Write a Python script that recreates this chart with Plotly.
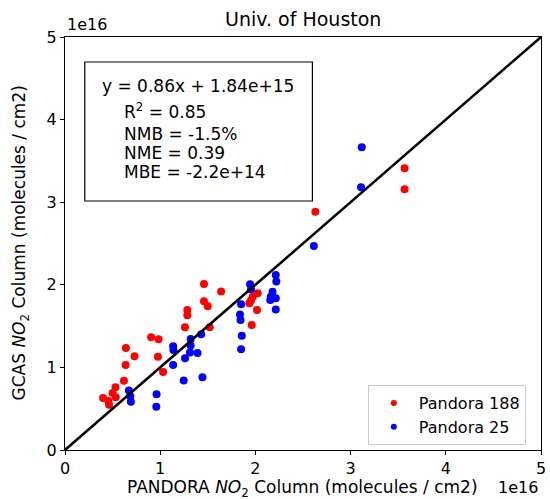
import plotly.graph_objects as go

# NO2 column densities in units of 1e16 molecules / cm2
pandora188_x = [1.46, 1.64, 1.46, 1.50, 1.285, 1.285, 1.26, 1.52, 0.905, 0.983,
                0.64, 0.73, 0.976, 0.637, 1.03, 0.619, 0.53, 0.50, 0.40, 0.456,
                0.533, 0.463, 2.024, 1.972, 1.954, 1.937, 2.017, 1.962, 2.63,
                3.567, 3.567]
pandora188_y = [2.01, 1.92, 1.80, 1.74, 1.695, 1.63, 1.485, 1.485, 1.364, 1.34,
                1.235, 1.135, 1.13, 1.03, 0.945, 0.839, 0.759, 0.69, 0.63, 0.593,
                0.638, 0.548, 1.897, 1.856, 1.81, 1.776, 1.695, 1.513, 2.885,
                3.41, 3.156]

pandora25_x = [0.671, 0.686, 0.692, 0.962, 0.959, 1.136, 1.139, 1.136, 1.247, 1.261,
               1.313, 1.32, 1.32, 1.392, 1.43, 1.444, 1.85, 1.838, 1.844, 1.857,
               1.85, 1.944, 1.954, 2.214, 2.22, 2.18, 2.162, 2.214, 2.156, 2.214,
               2.614, 3.117, 3.11]
pandora25_y = [0.72, 0.65, 0.585, 0.674, 0.524, 1.255, 1.21, 1.03, 0.84, 1.11,
               1.18, 1.345, 1.265, 1.175, 1.40, 0.88, 1.765, 1.64, 1.575, 1.384,
               1.22, 2.008, 1.945, 2.12, 2.04, 1.917, 1.856, 1.836, 1.816, 1.70,
               2.47, 3.665, 3.18]

axis_ticks = [0, 1, 2, 3, 4, 5]
one_to_one = [0, 5]

stats_lines = ["R<sup>2</sup> = 0.85", "NMB = -1.5%", "NME = 0.39", "MBE = -2.2e+14"]
fit_line_text = "y = 0.86x + 1.84e+15"

FONT = "DejaVu Sans"
W, H = 550, 499
L, R, T, B = 65, 4, 37, 49
PW, PH = W - L - R, H - T - B


def px(x):
    return (x - L) / PW


def py(y):
    return (H - B - y) / PH


fig = go.Figure()

fig.add_trace(go.Scatter(x=pandora188_x, y=pandora188_y, mode="markers",
                         marker=dict(color="#ff0000", size=8), showlegend=False))
fig.add_trace(go.Scatter(x=pandora25_x, y=pandora25_y, mode="markers",
                         marker=dict(color="#0000ff", size=8), showlegend=False))
fig.add_trace(go.Scatter(x=one_to_one, y=one_to_one, mode="lines",
                         line=dict(color="black", width=2.5), showlegend=False))

# legend entries with smaller dots
fig.add_trace(go.Scatter(x=[None], y=[None], mode="markers", name="Pandora 188",
                         marker=dict(color="#ff0000", size=6)))
fig.add_trace(go.Scatter(x=[None], y=[None], mode="markers", name="Pandora 25",
                         marker=dict(color="#0000ff", size=6)))

axis_common = dict(range=[0, 5], tickvals=axis_ticks, ticktext=[str(t) for t in axis_ticks],
                   ticks="outside", ticklen=4, tickwidth=1, tickcolor="black",
                   showline=True, linecolor="black", linewidth=1, mirror=True,
                   showgrid=False, zeroline=False, ticklabeloverflow="allow",
                   tickfont=dict(family=FONT, size=16, color="black"))

fig.update_layout(
    width=W, height=H,
    margin=dict(l=L, r=R, t=T, b=B),
    paper_bgcolor="white", plot_bgcolor="white",
    font=dict(family=FONT, color="black"),
    xaxis=axis_common,
    yaxis=axis_common,
    showlegend=True,
    legend=dict(x=px(371), y=py(385), xanchor="left", yanchor="top",
                bgcolor="white", bordercolor="#cccccc", borderwidth=1,
                tracegroupgap=0, itemwidth=40,
                font=dict(family=FONT, size=16, color="black")),
)

annotations = [
    dict(text="Univ. of Houston", x=px(305), y=py(19), font=dict(size=19)),
    dict(text="PANDORA <i>NO</i><sub>2</sub> Column (molecules / cm2)",
         x=px(305), y=py(488), font=dict(size=17)),
    dict(text="GCAS <i>NO</i><sub>2</sub> Column (molecules / cm2)",
         x=px(20), y=py(243), textangle=-90, font=dict(size=17)),
    dict(text="1e16", x=px(65), y=py(25), xanchor="left", font=dict(size=16)),
    dict(text="1e16", x=px(545), y=py(487), xanchor="right", font=dict(size=16)),
    dict(text=fit_line_text, x=px(100), y=py(86), xanchor="left", font=dict(size=17)),
]
for line, ypix in zip(stats_lines, [111, 134, 153, 172]):
    annotations.append(dict(text=line, x=px(123), y=py(ypix), xanchor="left",
                            font=dict(size=17)))

for a in annotations:
    a.setdefault("xanchor", "center")
    a.update(xref="paper", yref="paper", yanchor="middle", showarrow=False)
    a["font"] = dict(family=FONT, color="black", **a["font"])
fig.update_layout(annotations=annotations)

fig.add_shape(type="rect", xref="paper", yref="paper",
              x0=px(85), x1=px(315), y0=py(201), y1=py(62),
              line=dict(color="black", width=1.2), fillcolor="rgba(0,0,0,0)")

fig.write_html("out.html")
